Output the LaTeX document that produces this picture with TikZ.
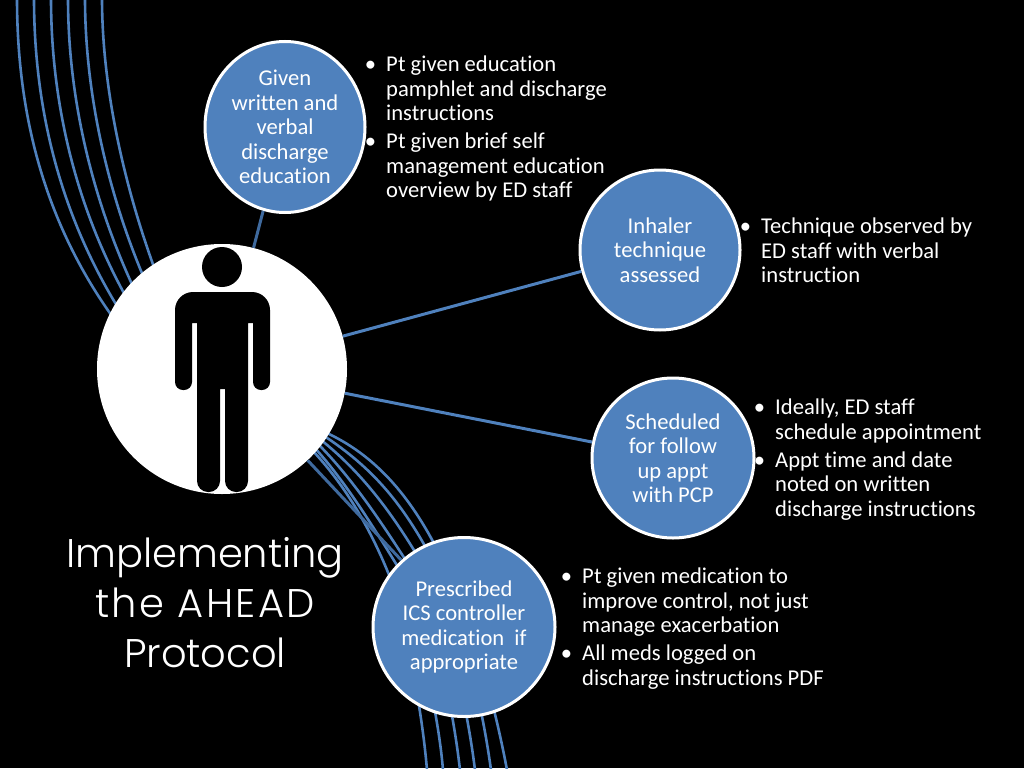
\documentclass[tikz,border=0pt]{standalone}
\usepackage{fontspec}
\usetikzlibrary{shapes.geometric}
\setmainfont{Carlito}[RawFeature={-liga}]
\newfontfamily\ttlfont{Poppins Light}
\definecolor{acc}{HTML}{4F81BD}
\definecolor{accdim}{HTML}{3F6A9E}
\tikzset{
  bubble/.style={ellipse,draw=white,line width=3pt,fill=acc,text=white,align=center,inner sep=0pt,font=\fontsize{22.6}{24.5}\selectfont},
  notes/.style={anchor=north west,align=left,text=white,inner sep=0pt,font=\fontsize{22.6}{24.5}\selectfont},
  link/.style={draw=acc,line width=3pt},
  linkdim/.style={draw=accdim,line width=3pt},
  swoosh/.style={draw=acc,line width=2.6pt}
}
\newcommand{\bu}{\llap{•\hspace{10pt}}}
\begin{document}
\begin{tikzpicture}[x=1pt,y=-1pt]
\fill[black] (0,0) rectangle (1024,768);
\useasboundingbox (0,0) rectangle (1024,768);
% left swooshes
\draw[swoosh] (17,-2) .. controls (17,120) and (47,228) .. (117,323);
\draw[swoosh] (34,-2) .. controls (34,114) and (62.6,220) .. (122,314);
\draw[swoosh] (51,-2) .. controls (51,108) and (78,213) .. (130,304);
\draw[swoosh] (68,-2) .. controls (68,102) and (94,205) .. (137,295);
\draw[swoosh] (85,-2) .. controls (85,96) and (109,198) .. (147,285);
\draw[swoosh] (102,-2) .. controls (102,90) and (125,190) .. (158,278);
% lower swooshes
\draw[swoosh] (320,430) .. controls (380,455) and (415,505) .. (440,555) .. controls (470,620) and (492,690) .. (507,770);
\draw[swoosh] (318,432) .. controls (370,465) and (400,500) .. (430,555) .. controls (460,620) and (480,690) .. (491,770);
\draw[swoosh] (316,436) .. controls (360,470) and (390,510) .. (420,560) .. controls (445,620) and (465,690) .. (475,770);
\draw[swoosh] (314,440) .. controls (350,475) and (380,520) .. (412,570) .. controls (435,630) and (452,700) .. (460,770);
\draw[swoosh] (312,445) .. controls (345,480) and (375,530) .. (403,575) .. controls (420,640) and (438,710) .. (443,770);
\draw[swoosh] (312,450) .. controls (345,485) and (372,530) .. (393,585) .. controls (408,640) and (422,710) .. (427,770);
% nodes
\node[circle,fill=white,minimum size=250pt,inner sep=0pt] (main) at (222,369) {};
\node[bubble,minimum width=160pt,minimum height=171pt] (edu) at (285,127) {Given\\written and\\verbal\\discharge\\education};
\node[bubble,minimum width=160pt,minimum height=160pt] (inh) at (660,250) {Inhaler\\technique\\assessed};
\node[bubble,minimum width=162pt,minimum height=160pt] (sch) at (673,458) {Scheduled\\for follow\\up appt\\with PCP};
\node[bubble,minimum width=182pt,minimum height=179pt] (med) at (464,627) {Prescribed\\ICS controller\\medication\ \ if\\appropriate};
% connectors
\draw[linkdim] (main) -- (edu);
\draw[link] (main) -- (inh);
\draw[link] (main) -- (sch);
\draw[linkdim] (main) -- (med);
% person
\fill[black] (222,267) circle (20);
\fill[black] (197,323) -- (192,323) [rounded corners=8pt] -- (192,390) -- (175,390) [rounded corners=18pt] -- (175,292) -- (270,292) [rounded corners=8pt] -- (270,390) -- (253,390) [sharp corners] -- (253,323) -- (248,323) [rounded corners=11pt] -- (248,492) -- (225,492) [sharp corners] -- (225,389) -- (220,389) [rounded corners=11pt] -- (220,492) -- (197,492) [sharp corners] -- cycle;
% notes
\node[notes] (n1) at (386,56) {\bu Pt given education\\pamphlet and discharge\\instructions\\[3.5pt]\bu Pt given brief self\\management education\\overview by ED staff};
\node[notes] (n2) at (761,218) {\bu Technique observed by\\ED staff with verbal\\instruction};
\node[notes] (n3) at (775,399) {\bu Ideally, ED staff\\schedule appointment\\[3.5pt]\bu Appt time and date\\noted on written\\discharge instructions};
\node[notes] (n4) at (582,568) {\bu Pt given medication to\\improve control, not just\\manage exacerbation\\[3.5pt]\bu All meds logged on\\discharge instructions PDF};
% title
\node[align=center,text=white,inner sep=0pt,font=\ttlfont\fontsize{40}{50}\selectfont] (ttl) at (205,603) {Implementing\\{\addfontfeature{LetterSpace=6}the AHEAD}\\Protocol};
\end{tikzpicture}
\end{document}
